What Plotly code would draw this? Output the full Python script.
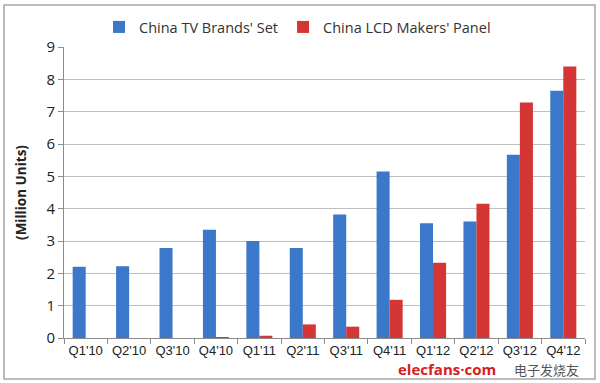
import plotly.graph_objects as go

quarters = ["Q1'10", "Q2'10", "Q3'10", "Q4'10", "Q1'11", "Q2'11", "Q3'11", "Q4'11", "Q1'12", "Q2'12", "Q3'12", "Q4'12"]
tv_brands_set = [2.2, 2.22, 2.78, 3.35, 3.0, 2.78, 3.82, 5.15, 3.55, 3.6, 5.67, 7.65]
lcd_makers_panel = [0.0, 0.0, 0.0, 0.02, 0.07, 0.42, 0.35, 1.18, 2.33, 4.15, 7.28, 8.4]

font_fam = "Open Sans, Noto Sans, sans-serif"

fig = go.Figure()
fig.add_trace(go.Bar(x=quarters, y=tv_brands_set, name="China TV Brands' Set",
                     marker=dict(color="#3b78c9", line=dict(width=0))))
fig.add_trace(go.Bar(x=quarters, y=lcd_makers_panel, name="China LCD Makers' Panel",
                     marker=dict(color="#d43535", line=dict(width=0))))

W, H = 600, 383
L, R, T, B = 64, 15, 47, 45
pw, ph = W - L - R, H - T - B

def px2x(px):
    return (px - L) / pw

def py2y(py):
    return (H - B - py) / ph

fig.add_shape(type="rect", xref="paper", yref="paper",
              x0=px2x(4), x1=px2x(595), y0=py2y(379), y1=py2y(5),
              line=dict(color="#a6a6a6", width=1.5), fillcolor="rgba(0,0,0,0)", layer="above")

fig.add_annotation(text="<b>elecfans</b><b>·</b><b>com</b>", xref="paper", yref="paper",
                   x=px2x(447), y=py2y(369), showarrow=False,
                   font=dict(family=font_fam, size=15, color="#d42020"), xanchor="center", yanchor="middle")
fig.add_annotation(text="电子发烧友", xref="paper", yref="paper",
                   x=px2x(546), y=py2y(369), showarrow=False,
                   font=dict(family="Noto Sans CJK SC", size=13, color="#555555"), xanchor="center", yanchor="middle")

fig.update_layout(
    width=W, height=H,
    margin=dict(l=L, r=R, t=T, b=B, autoexpand=False),
    paper_bgcolor="white", plot_bgcolor="white",
    barmode="group", bargap=0.4, bargroupgap=0.0,
    font=dict(family=font_fam, size=13, color="#222222"),
    legend=dict(orientation="h", x=px2x(99), xanchor="left", y=py2y(11), yanchor="top",
                font=dict(size=14.5, color="#333333"), itemwidth=30, traceorder="normal",
                itemsizing="constant"),
    xaxis=dict(showgrid=False, showline=True, linecolor="#8c8c8c", linewidth=1,
               ticks="outside", ticklen=5, tickcolor="#8c8c8c", tickson="boundaries",
               tickangle=0, automargin=False,
               tickfont=dict(family="Liberation Sans, Arial, sans-serif", size=13, color="#222222")),
    yaxis=dict(range=[0, 9], dtick=1, showgrid=True, gridcolor="#bfbfbf", gridwidth=1,
               showline=True, linecolor="#8c8c8c", linewidth=1, automargin=False,
               ticks="outside", ticklen=5, tickcolor="#8c8c8c", zeroline=False,
               tickfont=dict(family=font_fam, size=15, color="#222222"),
               title=dict(text="<b>(Million Units)</b>", font=dict(family=font_fam, size=13.5, color="#222222"),
                          standoff=16)),
)

fig.write_html("out.html", config={"displayModeBar": False},
               post_script="document.body.style.margin='0';document.body.style.overflow='hidden';")
